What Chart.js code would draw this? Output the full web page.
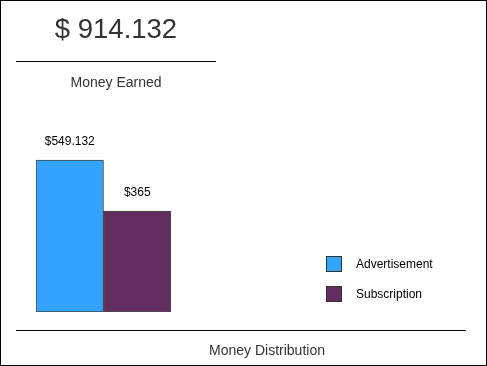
<!DOCTYPE html>
<html>
<head>
<meta charset="utf-8">
<script src="https://cdn.jsdelivr.net/npm/chart.js@4/dist/chart.umd.min.js"></script>
<style>
  html, body { margin: 0; padding: 0; background: #fff; }
  #frame { position: relative; width: 487px; height: 366px; box-sizing: border-box; border: 1px solid #000; overflow: hidden; font-family: "Liberation Sans", Arial, sans-serif; }
  #total { position: absolute; left: 15px; width: 200px; top: 10px; text-align: center; font-size: 27.5px; color: #333; line-height: 36px; }
  #line1 { position: absolute; left: 15px; width: 200px; top: 60px; height: 1px; background: #000; }
  #sub1 { position: absolute; left: 15px; width: 200px; top: 72px; text-align: center; font-size: 14px; color: #333; line-height: 18px; }
  #line2 { position: absolute; left: 15px; width: 450px; top: 329px; height: 1px; background: #000; }
  #sub2 { position: absolute; left: 41px; width: 450px; top: 340px; text-align: center; font-size: 14px; color: #333; line-height: 18px; }
  #cv { position: absolute; left: -1px; top: -1px; }
</style>
</head>
<body>
<div id="frame">
  <canvas id="cv" width="487" height="366"></canvas>
  <div id="total"></div>
  <div id="line1"></div>
  <div id="sub1">Money Earned</div>
  <div id="line2"></div>
  <div id="sub2">Money Distribution</div>
</div>
<script>
const categories = ["Money Distribution"];
const seriesNames = ["Advertisement", "Subscription"];
const seriesValues = [549.132, 365];
const valueLabels = ["$549.132", "$365"];
const totalLabel = "$ 914.132";
const seriesColors = ["#33A3FF", "#632D5F"];

document.getElementById('total').textContent = totalLabel;

const labelPlugin = {
  id: 'extras',
  afterDatasetsDraw(chart) {
    const ctx = chart.ctx;
    ctx.save();
    ctx.font = '12px "Liberation Sans", Arial, sans-serif';
    ctx.fillStyle = '#000';
    ctx.textAlign = 'center';
    ctx.textBaseline = 'middle';
    chart.data.datasets.forEach((ds, i) => {
      const el = chart.getDatasetMeta(i).data[0];
      ctx.fillText(valueLabels[i], el.x, el.y - 18);
    });
    // legend
    chart.data.datasets.forEach((ds, i) => {
      const y = 257 + i * 30;
      ctx.fillStyle = ds.backgroundColor;
      ctx.fillRect(327, y, 14, 14);
      ctx.strokeStyle = '#333';
      ctx.lineWidth = 1;
      ctx.strokeRect(326.5, y - 0.5, 15, 15);
      ctx.fillStyle = '#000';
      ctx.textAlign = 'left';
      ctx.fillText(ds.label, 356, y + 8);
    });
    ctx.restore();
  }
};

new Chart(document.getElementById('cv'), {
  type: 'bar',
  data: {
    labels: categories,
    datasets: seriesNames.map((n, i) => ({
      label: n,
      data: [seriesValues[i]],
      backgroundColor: seriesColors[i],
      borderColor: 'rgba(40,40,40,0.85)',
      borderWidth: 1,
      borderSkipped: false,
      categoryPercentage: 1,
      barPercentage: 1
    }))
  },
  options: {
    responsive: false,
    animation: false,
    layout: { padding: { left: 36, right: 316, top: 146, bottom: 54 } },
    plugins: { legend: { display: false }, title: { display: false }, tooltip: { enabled: false } },
    scales: {
      x: { display: false },
      y: { display: false, min: 0, max: 600 }
    }
  },
  plugins: [labelPlugin]
});
</script>
</body>
</html>
